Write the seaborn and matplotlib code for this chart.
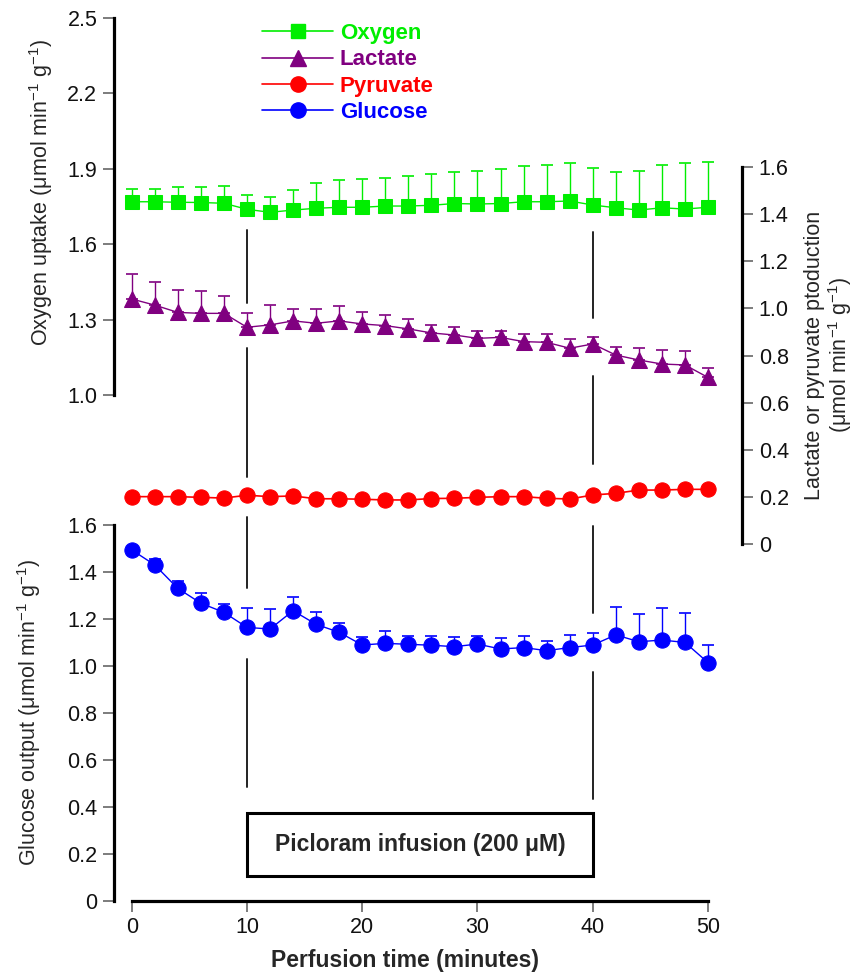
import numpy as np
import matplotlib
matplotlib.use("Agg")
import matplotlib.pyplot as plt
from matplotlib.lines import Line2D
from matplotlib.patches import Rectangle
import seaborn as sns

# data
minutes = [0, 2, 4, 6, 8, 10, 12, 14, 16, 18, 20, 22, 24, 26, 28, 30, 32, 34, 36, 38, 40, 42, 44, 46, 48, 50]

oxygen = [1.769, 1.769, 1.767, 1.766, 1.763, 1.739, 1.727, 1.736, 1.743, 1.747, 1.747, 1.752, 1.752,
          1.755, 1.762, 1.760, 1.762, 1.769, 1.769, 1.772, 1.756, 1.745, 1.736, 1.745, 1.740, 1.747]
oxygen_sem = [0.051, 0.051, 0.062, 0.063, 0.070, 0.058, 0.062, 0.080, 0.102, 0.107, 0.113, 0.113, 0.121,
              0.123, 0.125, 0.132, 0.139, 0.143, 0.146, 0.150, 0.148, 0.144, 0.155, 0.170, 0.182, 0.181]

lactate = [1.040, 1.014, 0.983, 0.979, 0.979, 0.920, 0.930, 0.947, 0.937, 0.947, 0.934, 0.927, 0.913,
           0.896, 0.887, 0.873, 0.877, 0.859, 0.856, 0.831, 0.849, 0.802, 0.781, 0.764, 0.760, 0.707]
lactate_sem = [0.106, 0.099, 0.095, 0.096, 0.075, 0.059, 0.084, 0.049, 0.059, 0.063, 0.049, 0.045, 0.041,
               0.034, 0.035, 0.033, 0.027, 0.032, 0.034, 0.039, 0.028, 0.035, 0.052, 0.059, 0.060, 0.039]

pyruvate = [0.201, 0.201, 0.201, 0.198, 0.195, 0.207, 0.201, 0.204, 0.192, 0.192, 0.190, 0.187, 0.187,
            0.193, 0.194, 0.198, 0.201, 0.201, 0.194, 0.191, 0.208, 0.215, 0.229, 0.229, 0.232, 0.232]

glucose = [1.494, 1.430, 1.330, 1.267, 1.228, 1.164, 1.157, 1.235, 1.177, 1.143, 1.089, 1.096, 1.092,
           1.088, 1.082, 1.093, 1.072, 1.078, 1.065, 1.078, 1.089, 1.132, 1.103, 1.110, 1.100, 1.014]
glucose_sem = [0.006, 0.025, 0.033, 0.042, 0.036, 0.081, 0.085, 0.057, 0.054, 0.038, 0.035, 0.053, 0.035,
               0.039, 0.041, 0.036, 0.045, 0.051, 0.042, 0.054, 0.052, 0.120, 0.118, 0.138, 0.124, 0.075]

# infusion start/stop and the broken marker lines (glucose axis units)
infusion = [10, 40]
divider_segments = {10: [(2.547, 2.858), (1.805, 2.354), (1.332, 1.634), (0.484, 1.029)],
                    40: [(2.481, 2.850), (1.861, 2.236), (1.225, 1.595), (0.434, 0.974)]}

green, purple, red, blue = '#00ee00', '#800080', '#ff0000', '#0000ff'

sns.set_style("ticks")
plt.rcParams['font.family'] = ['Liberation Sans', 'DejaVu Sans']
plt.rcParams['mathtext.fontset'] = 'custom'
plt.rcParams['mathtext.rm'] = 'Liberation Sans'
plt.rcParams['mathtext.it'] = 'Liberation Sans:italic'
plt.rcParams['mathtext.bf'] = 'Liberation Sans:bold'

W, H = 858, 976
fig = plt.figure(figsize=(W / 100, H / 100), dpi=100)
pos = [114 / W, (H - 900.7) / H, 628 / W, (900.7 - 17) / H]
ax_glu = fig.add_axes(pos)
ax_oxy = fig.add_axes(pos, sharex=ax_glu)
ax_lp = fig.add_axes(pos, sharex=ax_glu)
for a in (ax_oxy, ax_lp):
    a.patch.set_visible(False)

ax_glu.set_xlim(-1.536, 52.95)
ax_glu.set_ylim(0, 3.7636)
ax_oxy.set_ylim(-1.0123, 2.5042)
ax_lp.set_ylim(-1.514, 2.2369)

zeros = np.zeros(len(minutes))
cap_kw = dict(fmt='none', elinewidth=1, capsize=4, capthick=1.2, zorder=2)

# oxygen
ax_oxy.errorbar(minutes, oxygen, yerr=[zeros, oxygen_sem], ecolor=green, **cap_kw)
sns.lineplot(x=minutes, y=oxygen, ax=ax_oxy, color=green, marker='s', markersize=10,
             markeredgecolor=green, linewidth=1, errorbar=None, zorder=3)
# lactate + pyruvate
ax_lp.errorbar(minutes, lactate, yerr=[zeros, lactate_sem], ecolor=purple, **cap_kw)
sns.lineplot(x=minutes, y=lactate, ax=ax_lp, color=purple, marker='^', markersize=11,
             markeredgecolor=purple, linewidth=1, errorbar=None, zorder=3)
sns.lineplot(x=minutes, y=pyruvate, ax=ax_lp, color=red, marker='o', markersize=11,
             markeredgecolor=red, linewidth=1.2, errorbar=None, zorder=3)
# glucose
ax_glu.errorbar(minutes, glucose, yerr=[zeros, glucose_sem], ecolor=blue, **cap_kw)
sns.lineplot(x=minutes, y=glucose, ax=ax_glu, color=blue, marker='o', markersize=11,
             markeredgecolor=blue, linewidth=1, errorbar=None, zorder=3)

for xv in infusion:
    for lo, hi in divider_segments[xv]:
        ax_glu.plot([xv, xv], [lo, hi], color='#222222', lw=1.4, zorder=1)

# infusion box
ax_glu.add_patch(Rectangle((infusion[0], 0.105), infusion[1] - infusion[0], 0.27,
                           fill=False, edgecolor='black', lw=2.2, zorder=4))
ax_glu.text(sum(infusion) / 2, 0.24, 'Picloram infusion (200 μM)', ha='center', va='center',
            fontsize=16.5, fontweight='bold')

# spines and ticks
tick_kw = dict(labelsize=15.5, length=8, width=1.2, color='#666666', labelcolor='#111111', pad=4)
for a in (ax_glu, ax_oxy, ax_lp):
    for s in a.spines.values():
        s.set_visible(False)
        s.set_linewidth(2.3)
        s.set_color('black')

ax_glu.spines['left'].set_visible(True)
ax_glu.spines['left'].set_bounds(0, 1.6)
ax_glu.spines['bottom'].set_visible(True)
ax_glu.spines['bottom'].set_bounds(0, 50)
ax_glu.set_yticks([0, 0.2, 0.4, 0.6, 0.8, 1.0, 1.2, 1.4, 1.6])
ax_glu.set_yticklabels(['0', '0.2', '0.4', '0.6', '0.8', '1.0', '1.2', '1.4', '1.6'])
ax_glu.set_xticks([0, 10, 20, 30, 40, 50])
ax_glu.tick_params(axis='both', **tick_kw)

ax_oxy.spines['left'].set_visible(True)
ax_oxy.spines['left'].set_bounds(1.0, 2.5)
ax_oxy.set_yticks([1.0, 1.3, 1.6, 1.9, 2.2, 2.5])
ax_oxy.set_yticklabels(['1.0', '1.3', '1.6', '1.9', '2.2', '2.5'])
ax_oxy.tick_params(axis='y', **tick_kw)
ax_oxy.tick_params(axis='x', bottom=False, labelbottom=False)

ax_lp.spines['right'].set_visible(True)
ax_lp.spines['right'].set_bounds(0, 1.6)
ax_lp.yaxis.tick_right()
ax_lp.set_yticks([0, 0.2, 0.4, 0.6, 0.8, 1.0, 1.2, 1.4, 1.6])
ax_lp.set_yticklabels(['0', '0.2', '0.4', '0.6', '0.8', '1.0', '1.2', '1.4', '1.6'])
ax_lp.tick_params(axis='y', **tick_kw)
ax_lp.tick_params(axis='x', bottom=False, labelbottom=False)

for a in (ax_glu, ax_oxy, ax_lp):
    a.set_xlabel('')
    a.set_ylabel('')

unit = '(μmol min$^{-1}$ g$^{-1}$)'
fig.text(41 / W, 1 - 192 / H, 'Oxygen uptake ' + unit, rotation=90, ha='center', va='center', fontsize=15.5)
fig.text(29 / W, 1 - 712 / H, 'Glucose output ' + unit, rotation=90, ha='center', va='center', fontsize=15.5)
fig.text(829 / W, 1 - 355 / H, 'Lactate or pyruvate ptoduction\n' + unit, rotation=90, ha='center',
         va='center', fontsize=15.5, multialignment='center', linespacing=1.05)
fig.text(405 / W, 1 - 960 / H, 'Perfusion time (minutes)', ha='center', va='center',
         fontsize=16.5, fontweight='bold')

# legend
handles = [Line2D([], [], color=green, marker='s', markersize=10, lw=1.2),
           Line2D([], [], color=purple, marker='^', markersize=11, lw=1.2),
           Line2D([], [], color=red, marker='o', markersize=11, lw=1.2),
           Line2D([], [], color=blue, marker='o', markersize=11, lw=1.2)]
leg = fig.legend(handles, ['Oxygen', 'Lactate', 'Pyruvate', 'Glucose'], loc='upper left',
                 bbox_to_anchor=(262 / W, 1 - 23 / H), frameon=False, borderpad=0, borderaxespad=0,
                 handlelength=3.2, handletextpad=0.3, labelspacing=0.24,
                 prop={'weight': 'bold', 'size': 16})
for t, c in zip(leg.get_texts(), [green, purple, red, blue]):
    t.set_color(c)

fig.savefig('out.png', dpi=100)
